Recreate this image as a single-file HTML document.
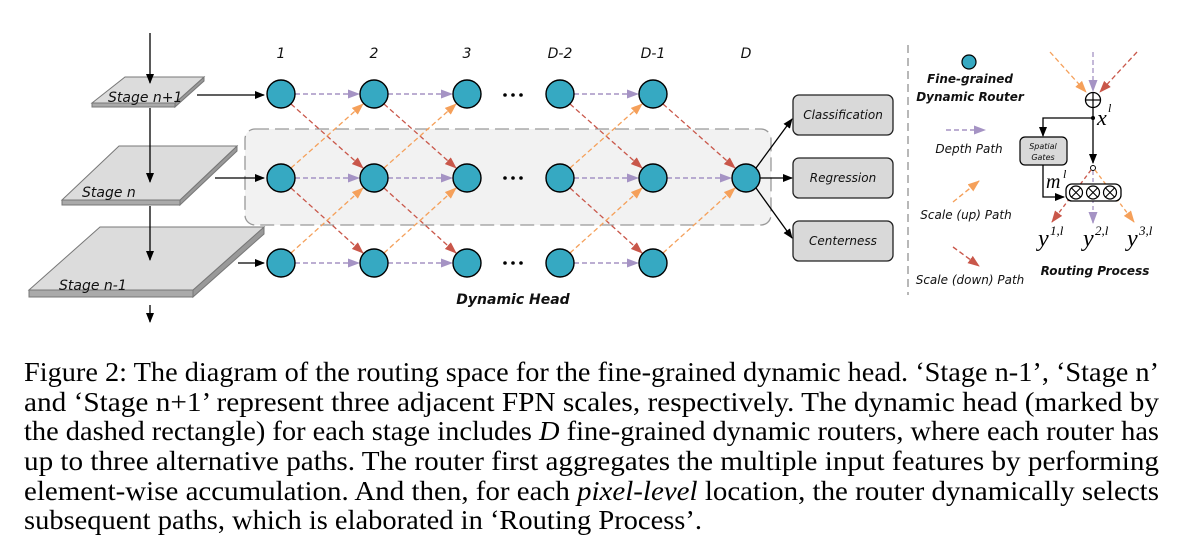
<!DOCTYPE html>
<html><head><meta charset="utf-8"><style>
html,body{margin:0;padding:0;background:#fff;}
svg{display:block}
.lbl{font-family:"DejaVu Sans","Liberation Sans",sans-serif;font-style:italic;font-size:12px;fill:#111}
.cap{font-family:"Liberation Serif",serif;font-size:27px;fill:#000}
</style></head><body>
<svg width="1189" height="551" viewBox="0 0 1189 551" xmlns="http://www.w3.org/2000/svg">
<defs>
<marker id="ak" markerWidth="10" markerHeight="8" refX="9" refY="4" orient="auto" markerUnits="userSpaceOnUse"><path d="M0,0 L10,4 L0,8 z" fill="#000"/></marker>
<marker id="ap" markerWidth="12" markerHeight="9" refX="11" refY="4.5" orient="auto" markerUnits="userSpaceOnUse"><path d="M0,0 L12,4.5 L0,9 z" fill="#a593c4"/></marker>
<marker id="ar" markerWidth="12" markerHeight="9" refX="11" refY="4.5" orient="auto" markerUnits="userSpaceOnUse"><path d="M0,0 L12,4.5 L0,9 z" fill="#c9574a"/></marker>
<marker id="ao" markerWidth="12" markerHeight="9" refX="11" refY="4.5" orient="auto" markerUnits="userSpaceOnUse"><path d="M0,0 L12,4.5 L0,9 z" fill="#f5a05a"/></marker>
</defs>

<rect x="245" y="129" width="526" height="96" rx="10" fill="#f2f2f2" stroke="#999" stroke-width="1.3" stroke-dasharray="14,6"/>

<g stroke="#777" stroke-width="1">
<polygon points="92,103 175,103 175,107 92,107" fill="#aaa"/>
<polygon points="175,103 204,77 204,81 175,107" fill="#999"/>
<polygon points="92,103 125,77 204,77 175,103" fill="#dcdcdc"/>
<polygon points="62,200 180,200 180,205 62,205" fill="#aaa"/>
<polygon points="180,200 237,146 237,151 180,205" fill="#999"/>
<polygon points="62,200 119,146 237,146 180,200" fill="#dcdcdc"/>
<polygon points="29,290 193,290 193,297 29,297" fill="#aaa"/>
<polygon points="193,290 264,227 264,234 193,297" fill="#999"/>
<polygon points="29,290 100,227 264,227 193,290" fill="#dcdcdc"/>
</g>
<g stroke="#000" stroke-width="1.3" fill="none" marker-end="url(#ak)">
<line x1="150" y1="33" x2="150" y2="83"/>
<line x1="150" y1="108" x2="150" y2="182"/>
<line x1="150" y1="206" x2="150" y2="260"/>
<line x1="150" y1="305" x2="150" y2="322"/>
<line x1="197" y1="95" x2="264" y2="95"/>
<line x1="215" y1="178" x2="264" y2="178"/>
<line x1="238" y1="263" x2="264" y2="263"/>
</g>
<text class="lbl" x="108" y="102" style="font-size:14px">Stage n+1</text>
<text class="lbl" x="82" y="197" style="font-size:14px">Stage n</text>
<text class="lbl" x="59" y="290" style="font-size:14px">Stage n-1</text>

<g class="lbl" style="font-size:14px" text-anchor="middle">
<text x="281" y="58">1</text><text x="374" y="58">2</text><text x="467" y="58">3</text>
<text x="560" y="58">D-2</text><text x="653" y="58">D-1</text><text x="746" y="58">D</text>
</g>

<g stroke="#a593c4" stroke-width="1.4" stroke-dasharray="5,3" marker-end="url(#ap)">
<line x1="295" y1="94" x2="359" y2="94"/><line x1="388" y1="94" x2="452" y2="94"/><line x1="574" y1="94" x2="638" y2="94"/>
<line x1="295" y1="178" x2="359" y2="178"/><line x1="388" y1="178" x2="452" y2="178"/><line x1="574" y1="178" x2="638" y2="178"/><line x1="667" y1="178" x2="731" y2="178"/>
<line x1="295" y1="263" x2="359" y2="263"/><line x1="388" y1="263" x2="452" y2="263"/><line x1="574" y1="263" x2="638" y2="263"/>
</g>
<g stroke="#c9574a" stroke-width="1.3" stroke-dasharray="5,3" marker-end="url(#ar)">
<line x1="291" y1="104" x2="363" y2="168"/><line x1="384" y1="104" x2="456" y2="168"/><line x1="570" y1="104" x2="642" y2="168"/><line x1="663" y1="104" x2="735" y2="168"/>
<line x1="291" y1="188" x2="363" y2="253"/><line x1="384" y1="188" x2="456" y2="253"/><line x1="570" y1="188" x2="642" y2="253"/>
</g>
<g stroke="#f5a05a" stroke-width="1.3" stroke-dasharray="5,3" marker-end="url(#ao)">
<line x1="291" y1="168" x2="363" y2="104"/><line x1="384" y1="168" x2="456" y2="104"/><line x1="570" y1="168" x2="642" y2="104"/>
<line x1="291" y1="253" x2="363" y2="188"/><line x1="384" y1="253" x2="456" y2="188"/><line x1="570" y1="253" x2="642" y2="188"/><line x1="663" y1="253" x2="735" y2="188"/>
</g>

<g fill="#36a9c2" stroke="#000" stroke-width="1.4">
<circle cx="281" cy="94" r="14"/><circle cx="374" cy="94" r="14"/><circle cx="467" cy="94" r="14"/><circle cx="560" cy="94" r="14"/><circle cx="653" cy="94" r="14"/>
<circle cx="281" cy="178" r="14"/><circle cx="374" cy="178" r="14"/><circle cx="467" cy="178" r="14"/><circle cx="560" cy="178" r="14"/><circle cx="653" cy="178" r="14"/><circle cx="746" cy="178" r="14"/>
<circle cx="281" cy="263" r="14"/><circle cx="374" cy="263" r="14"/><circle cx="467" cy="263" r="14"/><circle cx="560" cy="263" r="14"/><circle cx="653" cy="263" r="14"/>
</g>
<g fill="#000">
<circle cx="505" cy="95" r="1.8"/><circle cx="513" cy="95" r="1.8"/><circle cx="521" cy="95" r="1.8"/>
<circle cx="505" cy="178" r="1.8"/><circle cx="513" cy="178" r="1.8"/><circle cx="521" cy="178" r="1.8"/>
<circle cx="505" cy="263" r="1.8"/><circle cx="513" cy="263" r="1.8"/><circle cx="521" cy="263" r="1.8"/>
</g>
<text class="lbl" x="513" y="304" text-anchor="middle" style="font-weight:bold;font-size:14px">Dynamic Head</text>

<g stroke="#000" stroke-width="1.3" marker-end="url(#ak)">
<line x1="756" y1="168" x2="792" y2="119"/><line x1="760" y1="178" x2="792" y2="178"/><line x1="756" y1="188" x2="792" y2="238"/>
</g>
<g fill="#d9d9d9" stroke="#222" stroke-width="1.3">
<rect x="793" y="95" width="100" height="40" rx="6"/><rect x="793" y="158" width="100" height="40" rx="6"/><rect x="793" y="221" width="100" height="40" rx="6"/>
</g>
<g class="lbl" text-anchor="middle">
<text x="843" y="119">Classification</text><text x="843" y="182">Regression</text><text x="843" y="245">Centerness</text>
</g>

<line x1="908" y1="45" x2="908" y2="295" stroke="#888" stroke-width="1.2" stroke-dasharray="8,5"/>

<circle cx="969" cy="62" r="7" fill="#36a9c2" stroke="#000" stroke-width="1.2"/>
<g class="lbl" style="font-size:12px;font-weight:bold" text-anchor="middle">
<text x="970" y="83">Fine-grained</text><text x="970" y="101">Dynamic Router</text>
</g>
<line x1="946" y1="130" x2="985" y2="130" stroke="#a593c4" stroke-width="1.4" stroke-dasharray="5,3" marker-end="url(#ap)"/>
<text class="lbl" x="969" y="153" text-anchor="middle" style="font-size:12px">Depth Path</text>
<line x1="953" y1="202" x2="979" y2="181" stroke="#f5a05a" stroke-width="1.4" stroke-dasharray="5,3" marker-end="url(#ao)"/>
<text class="lbl" x="966" y="219" text-anchor="middle" style="font-size:12px">Scale (up) Path</text>
<line x1="953" y1="247" x2="979" y2="266" stroke="#c9574a" stroke-width="1.4" stroke-dasharray="5,3" marker-end="url(#ar)"/>
<text class="lbl" x="970" y="284" text-anchor="middle" style="font-size:12px">Scale (down) Path</text>

<line x1="1050" y1="52" x2="1086" y2="92" stroke="#f5a05a" stroke-width="1.3" stroke-dasharray="5,3" marker-end="url(#ao)"/>
<line x1="1093" y1="52" x2="1093" y2="91" stroke="#a593c4" stroke-width="1.3" stroke-dasharray="5,3" marker-end="url(#ap)"/>
<line x1="1137" y1="52" x2="1100" y2="92" stroke="#c9574a" stroke-width="1.3" stroke-dasharray="5,3" marker-end="url(#ar)"/>
<circle cx="1093" cy="100" r="7.5" fill="#fff" stroke="#000" stroke-width="1.3"/>
<line x1="1085.5" y1="100" x2="1100.5" y2="100" stroke="#000" stroke-width="1.2"/>
<line x1="1093" y1="92.5" x2="1093" y2="107.5" stroke="#000" stroke-width="1.2"/>
<circle cx="1093" cy="118" r="2" fill="#000"/>
<g stroke="#000" stroke-width="1.3" fill="none">
<polyline points="1093,118 1043,118 1043,136" marker-end="url(#ak)"/>
<line x1="1093" y1="108" x2="1093" y2="163" marker-end="url(#ak)"/>
<polyline points="1043,165 1043,197 1064,197" marker-end="url(#ak)"/>
</g>
<circle cx="1093" cy="168" r="2.5" fill="#fff" stroke="#000"/>
<rect x="1020" y="137" width="47" height="28" rx="5" fill="#d9d9d9" stroke="#000" stroke-width="1.2"/>
<text class="lbl" x="1043" y="149" text-anchor="middle" style="font-size:8px">Spatial</text>
<text class="lbl" x="1043" y="160" text-anchor="middle" style="font-size:8px">Gates</text>
<text x="1097" y="125" style="font-family:'Liberation Serif',serif;font-style:italic;font-size:22px">x</text>
<text x="1108" y="112" style="font-family:'Liberation Serif',serif;font-style:italic;font-size:12px">l</text>
<text x="1046" y="188" style="font-family:'Liberation Serif',serif;font-style:italic;font-size:20px">m</text>
<text x="1063" y="178" style="font-family:'Liberation Serif',serif;font-style:italic;font-size:12px">l</text>
<g stroke="#c9574a" stroke-width="1.3" stroke-dasharray="4,3" fill="none"><line x1="1091" y1="170" x2="1052" y2="222" marker-end="url(#ar)"/></g>
<g stroke="#a593c4" stroke-width="1.3" stroke-dasharray="4,3" fill="none"><line x1="1093" y1="171" x2="1093" y2="223" marker-end="url(#ap)"/></g>
<g stroke="#f5a05a" stroke-width="1.3" stroke-dasharray="4,3" fill="none"><line x1="1095" y1="170" x2="1134" y2="222" marker-end="url(#ao)"/></g>
<rect x="1066" y="184" width="55" height="17" rx="6" fill="#fff" stroke="#000" stroke-width="1.3"/>
<g fill="#fff" stroke="#000" stroke-width="1.2">
<circle cx="1076" cy="192.5" r="6.5"/><circle cx="1093" cy="192.5" r="6.5"/><circle cx="1110" cy="192.5" r="6.5"/>
</g>
<g stroke="#000" stroke-width="1.1">
<path d="M1071.4,187.9 L1080.6,197.1 M1080.6,187.9 L1071.4,197.1"/>
<path d="M1088.4,187.9 L1097.6,197.1 M1097.6,187.9 L1088.4,197.1"/>
<path d="M1105.4,187.9 L1114.6,197.1 M1114.6,187.9 L1105.4,197.1"/>
</g>
<g style="font-family:'Liberation Serif',serif;font-style:italic">
<text x="1038" y="246" font-size="24">y</text><text x="1050" y="235" font-size="13">1,l</text>
<text x="1083" y="246" font-size="24">y</text><text x="1095" y="235" font-size="13">2,l</text>
<text x="1127" y="246" font-size="24">y</text><text x="1139" y="235" font-size="13">3,l</text>
</g>
<text class="lbl" x="1095" y="275" text-anchor="middle" style="font-size:12px;font-weight:bold">Routing Process</text>

<text class="cap" x="24" y="381" textLength="1135" lengthAdjust="spacingAndGlyphs">Figure 2: The diagram of the routing space for the fine-grained dynamic head. ‘Stage n-1’, ‘Stage n’</text>
<text class="cap" x="24" y="411" textLength="1135" lengthAdjust="spacingAndGlyphs">and ‘Stage n+1’ represent three adjacent FPN scales, respectively. The dynamic head (marked by</text>
<text class="cap" x="24" y="440" textLength="1135" lengthAdjust="spacingAndGlyphs">the dashed rectangle) for each stage includes <tspan font-style="italic">D</tspan> fine-grained dynamic routers, where each router has</text>
<text class="cap" x="24" y="470" textLength="1135" lengthAdjust="spacingAndGlyphs">up to three alternative paths. The router first aggregates the multiple input features by performing</text>
<text class="cap" x="24" y="500" textLength="1135" lengthAdjust="spacingAndGlyphs">element-wise accumulation. And then, for each <tspan font-style="italic">pixel-level</tspan> location, the router dynamically selects</text>
<text class="cap" x="24" y="529" textLength="678" lengthAdjust="spacingAndGlyphs">subsequent paths, which is elaborated in ‘Routing Process’.</text>
</svg>
</body></html>
